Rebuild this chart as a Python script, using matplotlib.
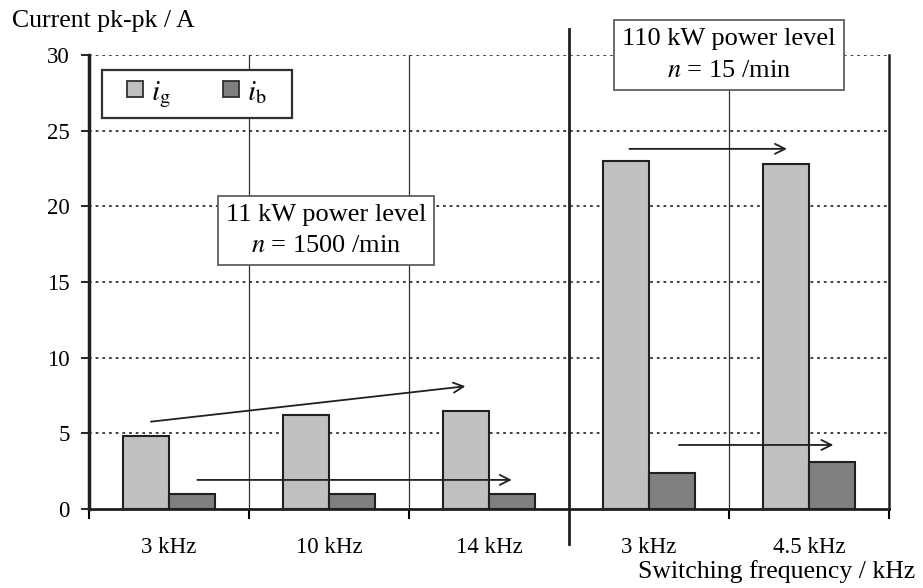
import numpy as np
import matplotlib.pyplot as plt
from matplotlib.lines import Line2D

plt.rcParams['font.family'] = 'Liberation Serif'
plt.rcParams['mathtext.fontset'] = 'stix'

# data
freqs = ['3 kHz', '10 kHz', '14 kHz', '3 kHz', '4.5 kHz']
i_g = [4.8, 6.2, 6.5, 23.0, 22.8]
i_b = [1.0, 1.0, 1.0, 2.4, 3.1]

fig = plt.figure(figsize=(9.23, 5.88), dpi=100)
ax = fig.add_axes([0.0964, 0.1344, 0.8667, 0.772])

x = np.arange(len(freqs))
w = 0.29
ax.bar(x - w/2, i_g, w, color='#c0c0c0', edgecolor='#202020', linewidth=1.5, zorder=3)
ax.bar(x + w/2, i_b, w, color='#808080', edgecolor='#202020', linewidth=1.5, zorder=3)

ax.set_xlim(-0.5, 4.5)
ax.set_ylim(0, 30)

# grid
for yv in range(5, 31, 5):
    ax.axhline(yv, color='#303030', lw=1.3, ls=(0, (1.5, 2.2)), zorder=1)
for xv in [0.5, 1.5, 3.5]:
    ax.axvline(xv, color='#303030', lw=0.9, zorder=1)
# separator between power levels
ax.plot([2.5, 2.5], [-2.3, 31.7], color='#202020', lw=2, clip_on=False, zorder=4)

ax.spines['top'].set_visible(False)
ax.spines['left'].set_linewidth(2.5)
ax.spines['bottom'].set_linewidth(2)
ax.spines['right'].set_linewidth(1.8)
for s in ax.spines.values():
    s.set_color('#202020')

ax.set_yticks(range(0, 31, 5))
ax.tick_params(axis='y', labelsize=16.5, length=6, width=1.2, pad=8)
ax.set_xticks(x)
ax.set_xticklabels(freqs)
ax.set_xticks([-0.5, 0.5, 1.5, 3.5, 4.5], minor=True)
ax.tick_params(axis='x', which='major', length=0, labelsize=16.5, pad=20)
ax.tick_params(axis='x', which='minor', length=7, width=1.5)

# arrows
ap = dict(arrowstyle='->', color='#202020', lw=1.3, mutation_scale=18)
ax.annotate('', xy=(1.87, 8.13), xytext=(-0.13, 5.75), arrowprops=ap, zorder=5)
ax.annotate('', xy=(2.16, 1.92), xytext=(0.16, 1.92), arrowprops=ap, zorder=5)
ax.annotate('', xy=(3.88, 23.8), xytext=(2.86, 23.8), arrowprops=ap, zorder=5)
ax.annotate('', xy=(4.17, 4.23), xytext=(3.17, 4.23), arrowprops=ap, zorder=5)

bb = dict(boxstyle='square,pad=0.3', fc='white', ec='#606060', lw=1.3)
ax.text(0.98, 18.4, '11 kW power level\n$n$ = 1500 /min', fontsize=19,
        ha='center', va='center', linespacing=1.55, bbox=bb, zorder=6)
ax.text(3.5, 30.0, '110 kW power level\n$n$ = 15 /min', fontsize=19,
        ha='center', va='center', linespacing=1.55, bbox=bb, zorder=6, clip_on=False)

handles = [Line2D([], [], ls='none', marker='s', ms=12, mfc='#c0c0c0', mec='#303030', mew=1.3),
           Line2D([], [], ls='none', marker='s', ms=12, mfc='#808080', mec='#303030', mew=1.3)]
leg = ax.legend(handles, [r'$i_\mathrm{g}$', r'$i_\mathrm{b}$   '], ncol=2,
                loc='upper left', bbox_to_anchor=(0.016, 0.967), borderaxespad=0,
                fontsize=21, handlelength=1.7, columnspacing=1.2,
                fancybox=False, edgecolor='#303030', framealpha=1,
                borderpad=0.3, handletextpad=-0.3)
leg.get_frame().set_linewidth(1.6)

fig.text(0.013, 0.965, 'Current pk-pk / A', fontsize=18.5, ha='left', va='center')
fig.text(0.992, 0.028, 'Switching frequency / kHz', fontsize=18.5, ha='right', va='center')

plt.savefig('out.png', dpi=100)
